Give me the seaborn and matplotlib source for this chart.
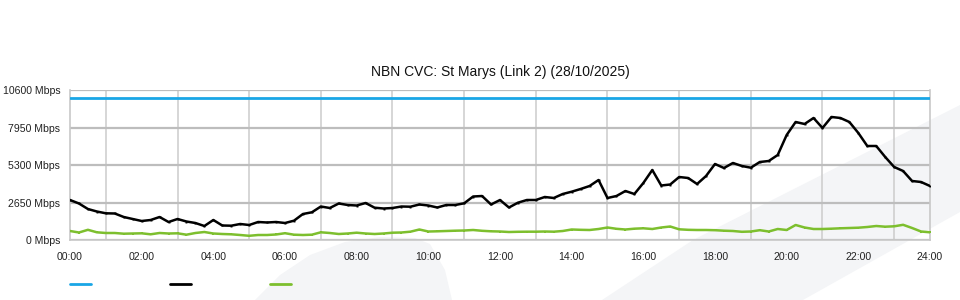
import numpy as np
import pandas as pd
import matplotlib
matplotlib.use("Agg")
import matplotlib.pyplot as plt
from matplotlib.patches import Polygon
from matplotlib.lines import Line2D
import seaborn as sns

# ---- data (Mbps, 15-minute samples from 00:00 to 24:00) ----
capacity_mbps = 10000

traffic_in = [
    2827, 2580, 2190, 2014, 1887, 1873, 1625, 1484, 1343, 1413, 1625, 1272,
    1484, 1307, 1201, 989, 1413, 1025, 1011, 1131, 1060, 1272, 1237, 1272,
    1201, 1364, 1837, 1958, 2367, 2261, 2580, 2473, 2438, 2615, 2283, 2226,
    2261, 2367, 2353, 2509, 2438, 2297, 2473, 2473, 2594, 3074, 3109, 2509,
    2827, 2297, 2636, 2827, 2827, 3039, 2968, 3251, 3413, 3604, 3816, 4240,
    2968, 3109, 3463, 3251, 4028, 4947, 3851, 3922, 4452, 4382, 3957, 4523,
    5371, 5088, 5442, 5230, 5109, 5512, 5583, 6007, 7420, 8339, 8198, 8622,
    7915, 8693, 8622, 8339, 7562, 6643, 6643, 5866, 5159, 4876, 4170, 4099,
    3816,
]

traffic_out = [
    636, 530, 720, 544, 495, 495, 445, 459, 473, 403, 495, 459,
    473, 375, 495, 565, 459, 424, 403, 353, 297, 353, 353, 389,
    480, 375, 353, 375, 544, 495, 424, 459, 516, 459, 424, 459,
    516, 530, 587, 742, 600, 615, 636, 657, 671, 707, 650, 615,
    600, 565, 580, 587, 587, 600, 587, 636, 742, 720, 707, 777,
    883, 792, 742, 799, 827, 777, 883, 954, 756, 720, 707, 707,
    693, 657, 636, 580, 600, 693, 600, 777, 707, 1060, 883, 777,
    777, 799, 827, 848, 869, 919, 989, 940, 968, 1074, 848, 600,
    544,
]

hours = np.arange(len(traffic_in)) * 0.25
y_ticks = [0, 2650, 5300, 7950, 10600]
x_ticks = list(range(0, 25, 2))
x_labels = [f"{h:02d}:00" for h in x_ticks]
title = "NBN CVC: St Marys (Link 2) (28/10/2025)"

df = pd.DataFrame({
    "hour": hours,
    "capacity": [capacity_mbps] * len(hours),
    "in": traffic_in,
    "out": traffic_out,
})

# ---- style ----
sns.set_theme(style="white")
plt.rcParams["font.family"] = ["Liberation Sans", "DejaVu Sans"]

BLUE = "#19a6e6"
BLACK = "#000000"
GREEN = "#7dbf2e"

fig = plt.figure(figsize=(9.6, 3.0), dpi=100)
W, H = 960, 300

# faint background watermark shapes (figure pixel coords)
def fp(pts):
    return [(x / W, 1 - y / H) for x, y in pts]

wm = "#f4f5f7"
fig.patches.append(Polygon(fp([(255, 300), (280, 275), (310, 255), (345, 242),
                               (380, 237), (415, 238), (430, 244), (445, 270),
                               (452, 300)]),
                           closed=True, transform=fig.transFigure,
                           facecolor=wm, edgecolor="none", zorder=-10))
fig.patches.append(Polygon(fp([(602, 300), (693, 240), (960, 105), (960, 212),
                               (803, 300)]),
                           closed=True, transform=fig.transFigure,
                           facecolor=wm, edgecolor="none", zorder=-10))

ax = fig.add_axes([70 / W, 1 - 240 / H, 860 / W, 150 / H])
ax.set_facecolor("none")
ax.set_zorder(1)

sns.lineplot(data=df, x="hour", y="capacity", ax=ax, color=BLUE, lw=2.0, zorder=4)
sns.lineplot(data=df, x="hour", y="out", ax=ax, color=GREEN, lw=1.8,
             marker="s", markersize=1.6, markeredgewidth=0, zorder=5)
sns.lineplot(data=df, x="hour", y="in", ax=ax, color=BLACK, lw=1.8,
             marker="s", markersize=1.4, markeredgewidth=0, zorder=6)

ax.set_xlim(0, 24)
ax.set_ylim(0, 10600)
ax.set_xlabel("")
ax.set_ylabel("")

ax.set_yticks(y_ticks)
ax.set_yticklabels([f"{v} Mbps" for v in y_ticks])
ax.set_xticks(x_ticks)
ax.set_xticklabels(x_labels)
ax.set_xticks(range(0, 25), minor=True)

ax.tick_params(axis="y", length=0, pad=7.0, labelsize=7.6, colors="#222222")
ax.tick_params(axis="x", which="major", length=7.5, width=1.2, color="#c4c4c4",
               direction="out", pad=1.5, labelsize=7.6, labelcolor="#222222")
ax.tick_params(axis="x", which="minor", length=0)

ax.grid(axis="y", which="major", color="#bdbdbd", lw=1.6)
ax.grid(axis="x", which="minor", color="#cfcfcf", lw=1.2)
ax.set_axisbelow(True)

for s in ["left", "right", "bottom"]:
    ax.spines[s].set_color("#c8c8c8")
    ax.spines[s].set_linewidth(1.2)
ax.spines["top"].set_visible(False)

ax.set_title(title, fontsize=10, pad=10, color="#111111")

# legend swatches without text
handles = [Line2D([], [], color=BLUE, lw=2),
           Line2D([], [], color=BLACK, lw=2),
           Line2D([], [], color=GREEN, lw=2)]
fig.legend(handles, ["", "", ""], ncol=3, loc="center left",
           bbox_to_anchor=(70 / W, 1 - 285 / H), frameon=False, fontsize=8,
           handlelength=1.89, handletextpad=0, columnspacing=7.11,
           borderpad=0, borderaxespad=0)

fig.savefig("out.png", dpi=100)
